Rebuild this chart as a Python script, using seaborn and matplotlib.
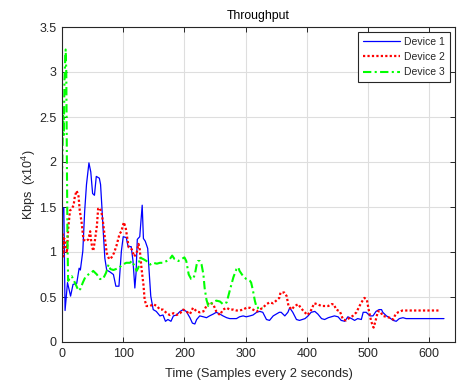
import matplotlib
matplotlib.use("Agg")
import matplotlib.pyplot as plt
import seaborn as sns
import pandas as pd

# ---- data (Kbps x10^4 vs sample index) ----
d1_t = [0, 1, 3, 5, 9, 14, 18, 24, 28, 30, 34, 37, 40, 44, 47, 50, 53, 56, 61, 63, 65, 67, 70, 73, 78, 84, 88, 93, 97,
        100, 105, 108, 113, 116, 119, 121, 123, 127, 131, 133, 136, 140, 142, 145, 149, 154, 160, 165, 169, 173, 178,
        182, 187, 193, 198, 203, 209, 213, 217, 220, 225, 231, 236, 241, 247, 252, 258, 263, 269, 274, 280, 285, 290,
        296, 301, 307, 312, 318, 323, 328, 334, 339, 345, 350, 355, 358, 364, 369, 372, 377, 383, 388, 397, 402, 407,
        413, 418, 424, 429, 435, 440, 445, 451, 456, 462, 467, 473, 478, 483, 489, 492, 497, 503, 508, 513, 518, 522,
        524, 530, 535, 541, 546, 551, 557, 562, 568, 624]
d1_v = [0.75, 1.49, 1.49, 0.35, 0.66, 0.51, 0.64, 0.65, 0.82, 0.80, 1.01, 1.45, 1.75, 1.99, 1.89, 1.65, 1.63, 1.84,
        1.82, 1.75, 1.52, 1.27, 0.93, 0.80, 0.78, 0.75, 0.62, 0.62, 1.01, 1.17, 1.16, 1.06, 1.06, 0.90, 0.60, 0.77,
        1.14, 1.17, 1.52, 1.15, 1.12, 1.04, 0.82, 0.51, 0.36, 0.34, 0.29, 0.30, 0.23, 0.25, 0.23, 0.29, 0.30, 0.34,
        0.36, 0.34, 0.27, 0.21, 0.20, 0.25, 0.29, 0.28, 0.27, 0.29, 0.31, 0.33, 0.31, 0.29, 0.27, 0.26, 0.26, 0.26,
        0.28, 0.29, 0.28, 0.29, 0.30, 0.33, 0.34, 0.33, 0.25, 0.24, 0.29, 0.31, 0.33, 0.33, 0.29, 0.33, 0.38, 0.33,
        0.25, 0.24, 0.26, 0.29, 0.33, 0.34, 0.31, 0.26, 0.25, 0.27, 0.28, 0.29, 0.28, 0.24, 0.23, 0.28, 0.26, 0.24,
        0.26, 0.25, 0.33, 0.33, 0.29, 0.29, 0.34, 0.36, 0.36, 0.33, 0.29, 0.27, 0.24, 0.23, 0.26, 0.27, 0.26, 0.26,
        0.26]

d2_t = [0, 1, 2, 3, 5, 8, 10, 13, 16, 19, 21, 24, 27, 29, 32, 35, 39, 43, 46, 48, 51, 54, 57, 59, 62, 65, 67, 70, 73,
        77, 81, 85, 89, 94, 97, 101, 104, 106, 109, 114, 118, 122, 125, 127, 130, 133, 135, 138, 144, 149, 155, 160,
        165, 171, 176, 182, 187, 193, 198, 203, 209, 214, 220, 225, 231, 236, 241, 247, 252, 258, 263, 269, 274, 280,
        285, 290, 296, 301, 307, 312, 318, 323, 328, 334, 339, 345, 350, 355, 357, 363, 367, 370, 375, 380, 386, 390,
        395, 401, 406, 412, 417, 424, 429, 435, 440, 444, 448, 454, 459, 464, 470, 475, 481, 486, 491, 494, 498, 501,
        505, 509, 512, 516, 520, 524, 530, 535, 541, 545, 549, 553, 556, 615]
d2_v = [1.00, 1.20, 0.95, 1.15, 1.14, 0.99, 1.25, 1.46, 1.48, 1.52, 1.62, 1.68, 1.62, 1.46, 1.33, 1.14, 1.12, 1.14,
        1.23, 1.10, 1.01, 1.14, 1.29, 1.48, 1.49, 1.42, 1.33, 1.16, 0.99, 0.92, 0.94, 0.99, 1.07, 1.20, 1.23, 1.33,
        1.27, 1.18, 1.05, 1.03, 0.95, 0.99, 1.09, 1.03, 0.81, 0.64, 0.47, 0.40, 0.40, 0.42, 0.40, 0.36, 0.36, 0.32,
        0.30, 0.32, 0.30, 0.32, 0.36, 0.34, 0.31, 0.38, 0.34, 0.33, 0.34, 0.40, 0.44, 0.42, 0.34, 0.30, 0.36, 0.38,
        0.36, 0.36, 0.35, 0.35, 0.36, 0.38, 0.38, 0.36, 0.34, 0.36, 0.38, 0.42, 0.44, 0.43, 0.46, 0.49, 0.55, 0.55,
        0.51, 0.40, 0.36, 0.40, 0.42, 0.38, 0.34, 0.30, 0.34, 0.43, 0.42, 0.40, 0.40, 0.40, 0.42, 0.42, 0.36, 0.34,
        0.25, 0.24, 0.27, 0.29, 0.33, 0.40, 0.46, 0.49, 0.47, 0.36, 0.23, 0.16, 0.23, 0.34, 0.34, 0.29, 0.28, 0.27,
        0.25, 0.31, 0.33, 0.34, 0.35, 0.35]

d3_t = [0, 1, 2, 3, 4, 5, 6, 7, 8, 9, 10, 12, 16, 21, 27, 30, 34, 38, 43, 48, 51, 57, 62, 67, 72, 76, 79, 84, 88, 94,
        99, 105, 111, 114, 118, 122, 125, 127, 133, 138, 144, 149, 155, 160, 165, 171, 176, 180, 184, 190, 195, 200,
        203, 207, 211, 214, 217, 220, 222, 225, 228, 231, 233, 236, 239, 241, 247, 252, 258, 263, 269, 274, 280, 285,
        288, 290, 296, 301, 307, 309, 312, 315, 318, 323, 328]
d3_v = [1.80, 2.20, 2.60, 2.30, 2.90, 3.10, 3.25, 3.00, 2.00, 1.10, 0.68, 0.70, 0.73, 0.66, 0.57, 0.59, 0.66, 0.72,
        0.75, 0.77, 0.79, 0.75, 0.70, 0.70, 0.77, 0.86, 0.81, 0.80, 0.81, 0.83, 0.86, 0.88, 0.88, 0.90, 0.85, 0.79,
        0.83, 0.94, 0.92, 0.90, 0.86, 0.88, 0.87, 0.88, 0.88, 0.90, 0.92, 0.96, 0.92, 0.90, 0.92, 0.94, 0.90, 0.75,
        0.70, 0.70, 0.75, 0.86, 0.90, 0.90, 0.86, 0.75, 0.60, 0.47, 0.40, 0.42, 0.44, 0.46, 0.45, 0.42, 0.44, 0.57,
        0.72, 0.81, 0.83, 0.79, 0.73, 0.70, 0.68, 0.66, 0.57, 0.46, 0.38, 0.38, 0.38]

labels = ["Device 1", "Device 2", "Device 3"]
x_ticks = [0, 100, 200, 300, 400, 500, 600]
y_ticks = [0, 0.5, 1, 1.5, 2, 2.5, 3, 3.5]
y_tick_labels = ["0", "0.5", "1", "1.5", "2", "2.5", "3", "3.5"]

# ---- style ----
sns.set_theme(style="white")
plt.rcParams["font.family"] = ["Liberation Sans", "DejaVu Sans"]
plt.rcParams["mathtext.fontset"] = "custom"
plt.rcParams["mathtext.rm"] = "Liberation Sans"
plt.rcParams["mathtext.it"] = "Liberation Sans"

fig = plt.figure(figsize=(4.59, 3.81), dpi=100)
fig.patch.set_facecolor("white")
ax = fig.add_axes([62 / 459, 1 - 342 / 381, (455 - 62) / 459, (342 - 27) / 381])

series = [(d1_t, d1_v), (d2_t, d2_v), (d3_t, d3_v)]
colors = ["#0000ff", "#ff0000", "#00ff00"]
styles = ["-", (0, (1, 1)), (0, (4, 1.6, 1, 1.6))]
widths = [0.9, 1.6, 1.5]

for (t, v), lab, c, ls, lw in zip(series, labels, colors, styles, widths):
    df = pd.DataFrame({"t": t, "v": v})
    sns.lineplot(data=df, x="t", y="v", ax=ax, color=c, linestyle=ls, linewidth=lw,
                 label=lab, estimator=None, sort=False)

ax.set_xlim(0, 642)
ax.set_ylim(0, 3.5)
ax.set_xticks(x_ticks)
ax.set_yticks(y_ticks)
ax.set_yticklabels(y_tick_labels)
ax.grid(True, color="#dedede", linewidth=0.8)
ax.set_axisbelow(True)
for s in ax.spines.values():
    s.set_color("#262626")
    s.set_linewidth(0.8)
ax.tick_params(direction="in", length=3.5, width=0.7, colors="#262626", labelsize=9,
               top=True, right=True, bottom=True, left=True, pad=4)
ax.set_xlabel("Time (Samples every 2 seconds)", fontsize=9.3, color="#262626", labelpad=6)
ax.set_ylabel(r"Kbps  (x10$^{4}$)", fontsize=9, color="#262626", labelpad=1)
ax.set_title("Throughput", fontsize=8.8, color="#000000", pad=6)

leg = ax.legend(loc="upper right", fontsize=7.5, frameon=True, fancybox=False,
                edgecolor="#262626", handlelength=3.6, borderaxespad=0.5,
                labelspacing=0.5, borderpad=0.45, handletextpad=0.4)
leg.get_frame().set_linewidth(0.8)
leg.get_frame().set_alpha(1)

fig.savefig("out.png", dpi=100, facecolor="white")
